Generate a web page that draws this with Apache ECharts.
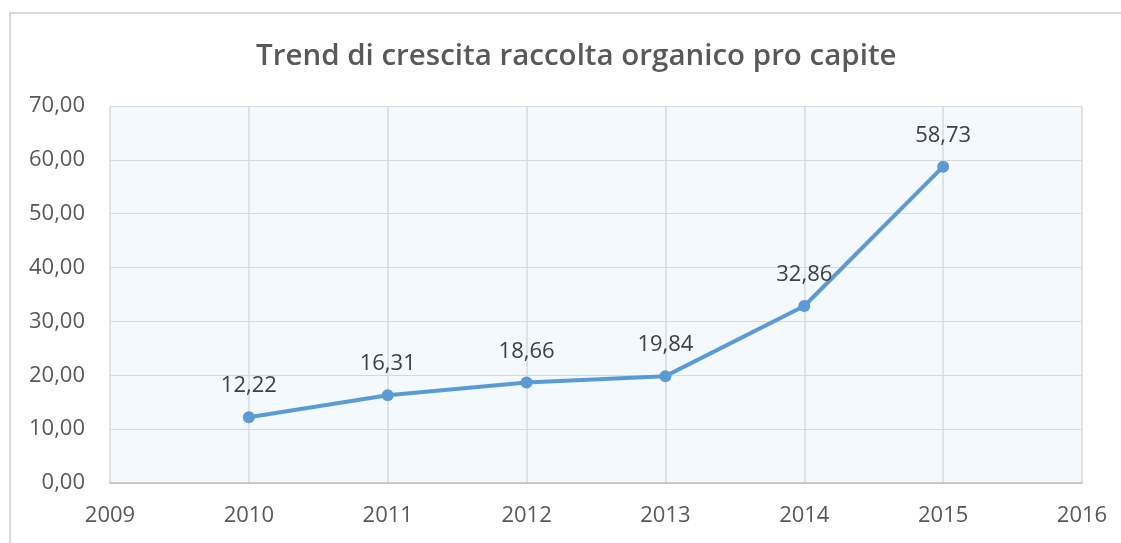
<!DOCTYPE html>
<html>
<head>
<meta charset="utf-8">
<style>
  html, body { margin: 0; padding: 0; background: #fff; }
  #chart { width: 1121px; height: 543px; }
</style>
<script src="https://cdn.jsdelivr.net/npm/echarts@6/dist/echarts.min.js"></script>
</head>
<body>
<div id="chart"></div>
<script>
// dati
var years = [2010, 2011, 2012, 2013, 2014, 2015]
var values = [12.22, 16.31, 18.66, 19.84, 32.86, 58.73]

var fmt = function(v) { return v.toFixed(2).replace('.', ',') }
var font = '"Open Sans", "Noto Sans", sans-serif'

var chart = echarts.init(document.getElementById('chart'))
chart.setOption({
  animation: false,
  textStyle: { fontFamily: font },
  title: {
    text: 'Trend di crescita raccolta organico pro capite',
    left: 251,
    top: 37,
    textStyle: { color: '#595959', fontSize: 29.5, fontWeight: 600, fontFamily: font }
  },
  graphic: [{
    type: 'rect',
    shape: { x: 10, y: 13, width: 1200, height: 600 },
    style: { fill: 'none', stroke: '#d9d9d9', lineWidth: 2 },
    silent: true
  }],
  grid: {
    left: 110, right: 39, top: 106, bottom: 60,
    show: true, backgroundColor: '#f3f9fd', borderWidth: 0
  },
  xAxis: {
    type: 'value',
    min: 2009, max: 2016, interval: 1,
    axisLine: { lineStyle: { color: '#bfbfbf', width: 1.5 } },
    axisTick: { show: false },
    axisLabel: { color: '#595959', fontSize: 22, margin: 22, fontFamily: font, formatter: function(v) { return String(v) } },
    splitLine: { show: true, lineStyle: { color: '#d9d9d9', width: 1.5 } }
  },
  yAxis: {
    type: 'value',
    min: 0, max: 70, interval: 10,
    axisLine: { show: false },
    axisTick: { show: false },
    axisLabel: { color: '#595959', fontSize: 22, margin: 25, fontFamily: font, formatter: fmt },
    splitLine: { show: true, lineStyle: { color: '#d9d9d9', width: 1 } }
  },
  series: [{
    type: 'line',
    data: years.map(function(y, i) { return [y, values[i]] }),
    symbol: 'circle',
    symbolSize: 12,
    lineStyle: { color: '#5b9bd5', width: 4 },
    itemStyle: { color: '#5b9bd5' },
    label: {
      show: true,
      position: 'top',
      distance: 14,
      color: '#404040',
      fontSize: 22,
      fontFamily: font,
      formatter: function(p) { return fmt(p.value[1]) }
    }
  }]
})
</script>
</body>
</html>
